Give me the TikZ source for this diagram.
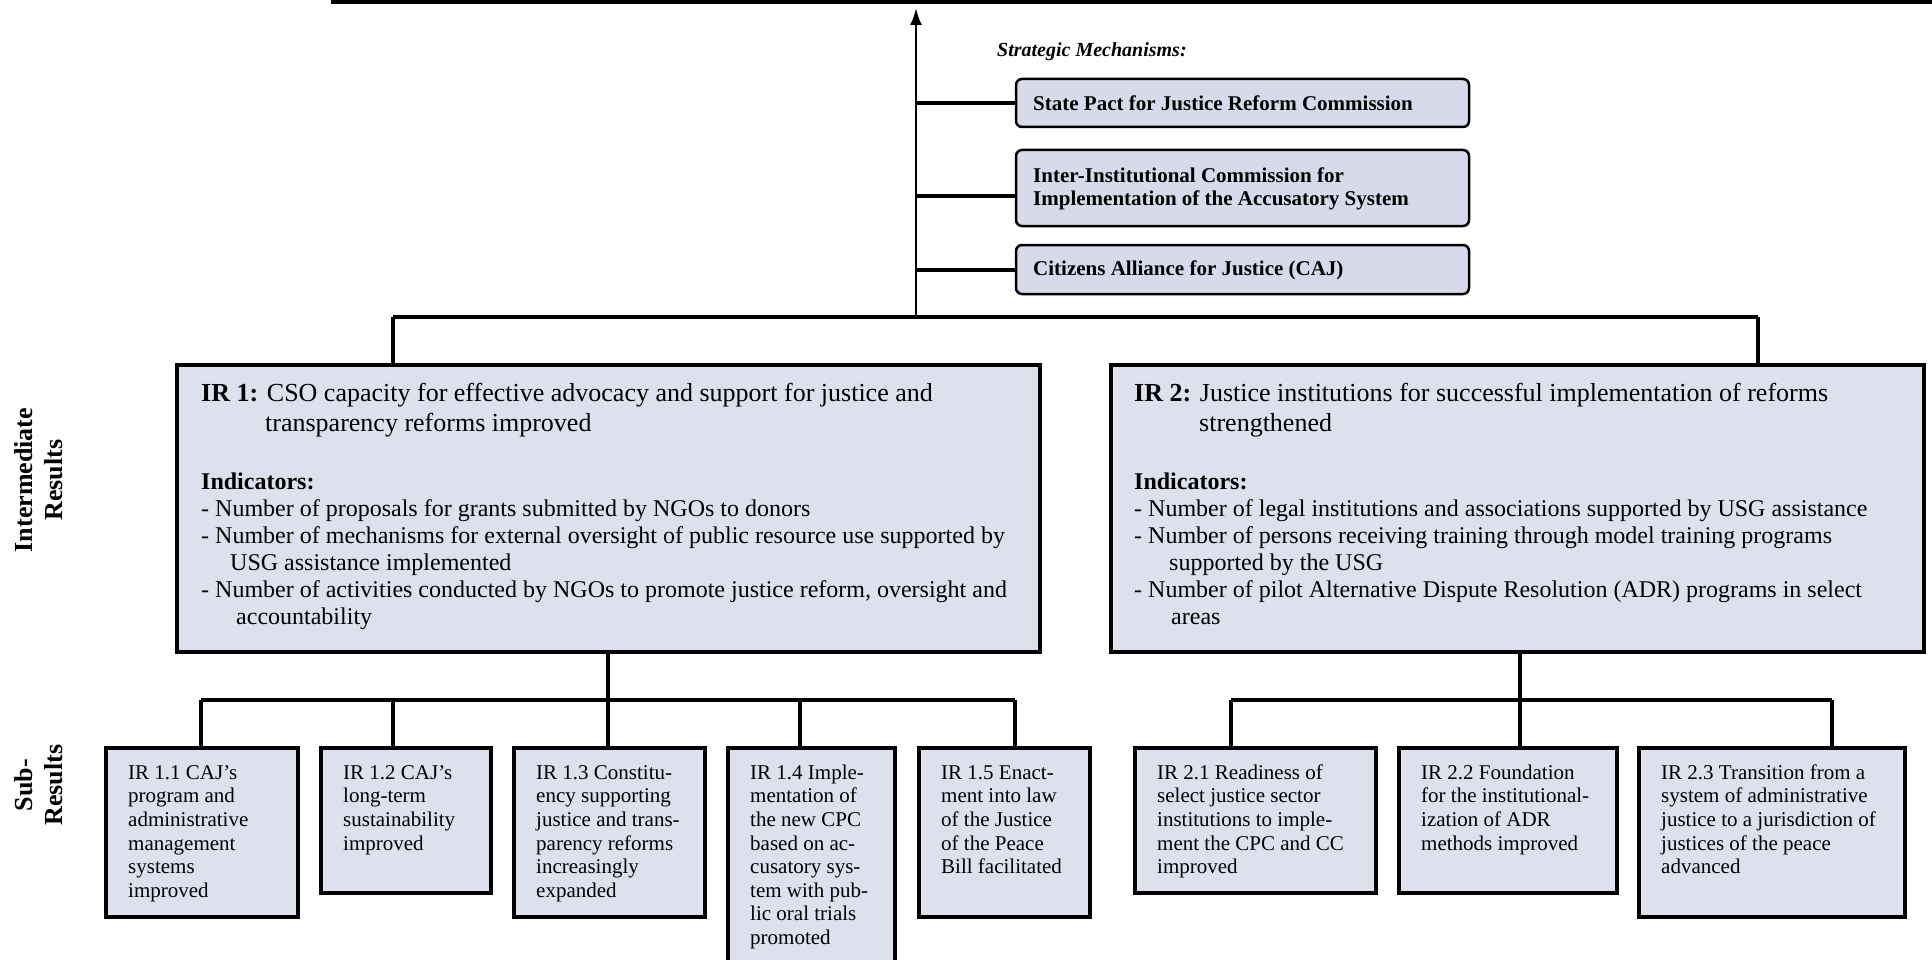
\documentclass[tikz,border=0pt]{standalone}
\usepackage{fontspec}
\setmainfont{Liberation Serif}
\usetikzlibrary{arrows.meta,calc,fit}
\definecolor{boxfill}{RGB}{221,225,238}
\definecolor{mechfill}{RGB}{214,218,234}
\begin{document}
\begin{tikzpicture}[x=1pt,y=-1pt,
  conn/.style={line width=3.5pt},
  stub/.style={line width=4pt},
  irbox/.style={draw, line width=4.5pt, fill=boxfill, inner sep=0pt, outer sep=0pt},
  subbox/.style={draw, line width=4pt, fill=boxfill, inner sep=0pt, outer sep=0pt},
  mechbox/.style={draw, line width=2.5pt, fill=mechfill, rounded corners=6pt, inner sep=0pt, outer sep=0pt},
  irtitle/.style={anchor=north west, inner sep=0pt, align=left, font=\fontsize{26}{30}\selectfont},
  irind/.style={anchor=north west, inner sep=0pt, align=left, font=\fontsize{24}{27}\selectfont},
  subtext/.style={anchor=north west, inner sep=0pt, align=left, font=\fontsize{21}{23.6}\selectfont},
  mechtext/.style={anchor=west, inner sep=0pt, align=left, font=\bfseries\fontsize{21}{23.5}\selectfont},
  sidelabel/.style={rotate=90, align=center, inner sep=0pt, font=\bfseries\fontsize{26}{30}\selectfont}]
\useasboundingbox (0,0) rectangle (1932,960);
\clip (0,0) rectangle (1932,960);

% top line and arrow
\coordinate (topL) at (331,1.5);
\coordinate (topR) at (1932,1.5);
\draw[line width=4.5pt] (topL) -- (topR);
\coordinate (j0) at (916,317);
\coordinate (arrowtip) at (916,8);

% strategic mechanisms
\node[anchor=west, inner sep=0pt, font=\bfseries\itshape\fontsize{20}{24}\selectfont] (smlabel) at (997,52) {Strategic Mechanisms:};
\node[mechbox, fit={(1016,79) (1469,127)}] (mA) {};
\node[mechbox, fit={(1016,150) (1469,226)}] (mB) {};
\node[mechbox, fit={(1016,245) (1469,294)}] (mC) {};
\node[mechtext] (tA) at (1033,103) {State Pact for Justice Reform Commission};
\node[mechtext] (tB) at (1033,189) {Inter-Institutional Commission for\\Implementation of the Accusatory System};
\node[mechtext] (tC) at (1033,270) {Citizens Alliance for Justice (CAJ)};
\draw[stub] (j0 |- mA.west) -- (mA.west);
\draw[stub] ($(j0 |- mB.west)+(0,8)$) -- ($(mB.west)+(0,8)$);
\draw[stub] (j0 |- mC.west) -- (mC.west);
\draw[line width=2.5pt, -{Latex[length=17pt,width=12pt]}] (j0) -- (arrowtip);

% side labels
\node[sidelabel] (lab1) at (39,480) {Intermediate\\Results};
\node[sidelabel] (lab2) at (39,785) {Sub-\\Results};

% IR boxes
\node[irbox, fit={(177,365) (1040,652)}] (ir1) {};
\node[irbox, fit={(1111,365) (1924,652)}] (ir2) {};

\node[irtitle] (ir1t) at (201,380) {\strut\textbf{IR 1:} CSO capacity for effective advocacy and support for justice and\\\hspace*{64pt}transparency reforms improved};
\node[irind] (ir1i) at (201,470) {\strut\textbf{Indicators:}\\
- Number of proposals for grants submitted by NGOs to donors\\
- Number of mechanisms for external oversight of public resource use supported by\\
\hspace*{29pt}USG assistance implemented\\
- Number of activities conducted by NGOs to promote justice reform, oversight and\\
\hspace*{35pt}accountability};

\node[irtitle] (ir2t) at (1134,380) {\strut\textbf{IR 2:} Justice institutions for successful implementation of reforms\\\hspace*{65pt}strengthened};
\node[irind] (ir2i) at (1134,470) {\strut\textbf{Indicators:}\\
- Number of legal institutions and associations supported by USG assistance\\
- Number of persons receiving training through model training programs\\
\hspace*{35pt}supported by the USG\\
- Number of pilot Alternative Dispute Resolution (ADR) programs in select\\
\hspace*{37pt}areas};

% connectors top level
\coordinate (barL) at (393,317);
\coordinate (barR) at (1758,317);
\draw[conn] (barL) -- (barR);
\draw[conn] (barL) -- (ir1.north -| barL);
\draw[conn] (barR) -- (ir2.north -| barR);

% sub boxes
\node[subbox, fit={(106,748) (298,917)}] (b11) {};
\node[subbox, fit={(321,748) (491,893)}] (b12) {};
\node[subbox, fit={(514,748) (705,917)}] (b13) {};
\node[subbox, fit={(728,748) (895,968)}] (b14) {};
\node[subbox, fit={(919,748) (1090,917)}] (b15) {};
\node[subbox, fit={(1135,748) (1376,893)}] (b21) {};
\node[subbox, fit={(1399,748) (1617,893)}] (b22) {};
\node[subbox, fit={(1639,748) (1905,917)}] (b23) {};

\node[subtext] (t11) at ($(b11.north west)+(22,14.5)$) {\strut IR 1.1 CAJ’s\\program and\\administrative\\management\\systems\\improved};
\node[subtext] (t12) at ($(b12.north west)+(22,14.5)$) {\strut IR 1.2 CAJ’s\\long-term\\sustainability\\improved};
\node[subtext] (t13) at ($(b13.north west)+(22,14.5)$) {\strut IR 1.3 Constitu-\\ency supporting\\justice and trans-\\parency reforms\\increasingly\\expanded};
\node[subtext] (t14) at ($(b14.north west)+(22,14.5)$) {\strut IR 1.4 Imple-\\mentation of\\the new CPC\\based on ac-\\cusatory sys-\\tem with pub-\\lic oral trials\\promoted};
\node[subtext] (t15) at ($(b15.north west)+(22,14.5)$) {\strut IR 1.5 Enact-\\ment into law\\of the Justice\\of the Peace\\Bill facilitated};
\node[subtext] (t21) at ($(b21.north west)+(22,14.5)$) {\strut IR 2.1 Readiness of\\select justice sector\\institutions to imple-\\ment the CPC and CC\\improved};
\node[subtext] (t22) at ($(b22.north west)+(22,14.5)$) {\strut IR 2.2 Foundation\\for the institutional-\\ization of ADR\\methods improved};
\node[subtext] (t23) at ($(b23.north west)+(22,14.5)$) {\strut IR 2.3 Transition from a\\system of administrative\\justice to a jurisdiction of\\justices of the peace\\advanced};

% IR1 sub connectors
\coordinate (j1) at (608,700);
\coordinate (s1L) at (201,700);
\coordinate (s1R) at (1015,700);
\draw[conn] (ir1.south -| j1) -- (j1);
\draw[conn] (s1L) -- (s1R);
\draw[conn] (s1L) -- (b11.north -| s1L);
\draw[conn] (j1 -| 393,0) -- (b12.north -| 393,0);
\draw[conn] (j1) -- (b13.north -| j1);
\draw[conn] (j1 -| 800,0) -- (b14.north -| 800,0);
\draw[conn] (s1R) -- (b15.north -| s1R);

% IR2 sub connectors
\coordinate (j2) at (1520,700);
\coordinate (s2L) at (1231,700);
\coordinate (s2R) at (1832,700);
\draw[conn] (ir2.south -| j2) -- (j2);
\draw[conn] (s2L) -- (s2R);
\draw[conn] (s2L) -- (b21.north -| s2L);
\draw[conn] (j2) -- (b22.north -| j2);
\draw[conn] (s2R) -- (b23.north -| s2R);
\end{tikzpicture}
\end{document}
